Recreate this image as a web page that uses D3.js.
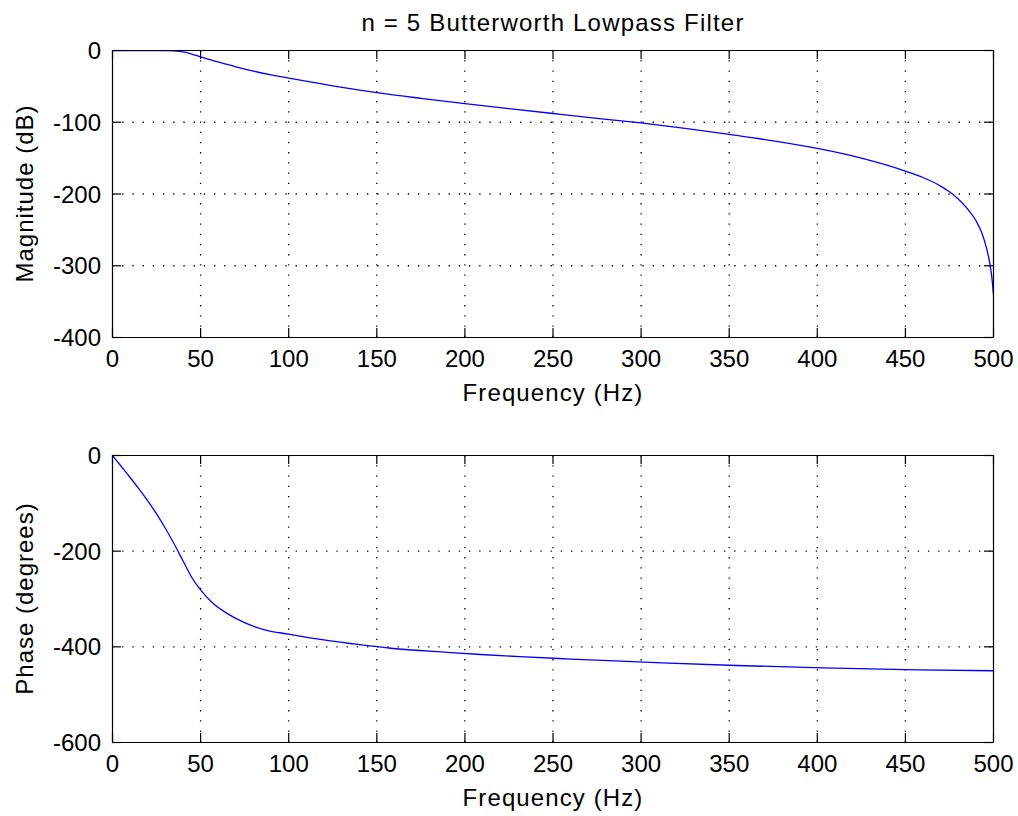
<!DOCTYPE html>
<html>
<head>
<meta charset="utf-8">
<script src="https://cdn.jsdelivr.net/npm/d3@7"></script>
<style>
  html, body { margin: 0; padding: 0; background: #fff; }
  svg { display: block; }
</style>
</head>
<body>
<script>
// ---------------- data ----------------
const titleText = "n = 5 Butterworth Lowpass Filter";
const xLabel = "Frequency (Hz)";
const magLabel = "Magnitude (dB)";
const phaseLabel = "Phase (degrees)";

const xTicks = [0, 50, 100, 150, 200, 250, 300, 350, 400, 450, 500];
const magTicks = [0, -100, -200, -300, -400];
const phaseTicks = [0, -200, -400, -600];

const magFreq = [0, 10, 20, 30, 35, 40, 45, 50, 60, 70, 80, 90, 100, 125, 150, 175, 200, 225, 250, 275, 300, 325, 350, 375, 400, 425, 450, 460, 470, 475, 480, 485, 490, 493, 496, 498, 499, 500];
const magDb   = [0, 0, 0, -0.1, -0.6, -2, -5, -9, -16, -22.7, -28.7, -34, -38.5, -49.4, -58.8, -66.7, -74, -81, -87.8, -94.5, -101, -108.5, -117, -126, -136.5, -150, -168, -177, -189, -197, -207, -220, -237, -252, -275, -298, -315, -341];

const phaseFreq = [0, 5, 10, 15, 20, 25, 30, 35, 40, 45, 50, 57, 65, 74, 87, 100, 115, 137, 158, 190, 209, 231, 260, 285, 312, 354, 403, 457, 500];
const phaseDeg  = [0, -23, -46, -70, -95, -122, -152, -185, -220, -255, -281, -309, -330, -348, -365, -373.5, -383, -394, -403, -411.5, -416, -420.5, -425.5, -429.5, -433.5, -439, -444, -448, -450];

// ---------------- layout ----------------
const W = 1018, H = 816;
const FONT = "'Liberation Sans', Arial, sans-serif";
const svg = d3.select("body").append("svg").attr("width", W).attr("height", H);

// x scale for marks; axis copy is shifted by d3's own half-pixel offset
const x = d3.scaleLinear().domain([0, 500]).range([112.5, 993.5]);
const xAx = x.copy().range([112, 993]);
const fmt = d => String(d); // plain hyphen minus, as in the reference

function panel(id, yDomain, top, bottom, yTicks, xs, ys, yLab) {
  const y = d3.scaleLinear().domain(yDomain).range([bottom + 0.5, top + 0.5]);
  const yAx = y.copy().range([bottom, top]);
  const g = svg.append("g");
  const h = bottom - top, w = 993 - 112;

  svg.append("clipPath").attr("id", "clip" + id)
    .append("rect").attr("x", 112.5).attr("y", top + 0.5).attr("width", w).attr("height", h);

  // dotted grid
  const gx = g.append("g").attr("transform", `translate(0,${bottom})`)
    .call(d3.axisBottom(xAx).tickValues(xTicks.slice(1, -1)).tickSize(-h).tickFormat(""));
  const gy = g.append("g").attr("transform", `translate(112,0)`)
    .call(d3.axisLeft(yAx).tickValues(yTicks.slice(1, -1)).tickSize(-w).tickFormat(""));
  [gx, gy].forEach(s => {
    s.select(".domain").remove();
    s.selectAll("line").attr("stroke", "#000").attr("stroke-width", 1.3)
      .attr("stroke-dasharray", "1.3,8.9").attr("stroke-linecap", "butt");
  });

  // curve
  const line = d3.line().x((d, i) => x(xs[i])).y((d, i) => y(ys[i])).curve(d3.curveMonotoneX);
  g.append("path").datum(xs).attr("clip-path", `url(#clip${id})`)
    .attr("d", line).attr("fill", "none").attr("stroke", "#0000ff").attr("stroke-width", 1.3);

  // axes, ticks inward on all four sides
  const ax = [];
  ax.push(g.append("g").attr("transform", `translate(0,${bottom})`)
    .call(d3.axisBottom(xAx).tickValues(xTicks).tickSize(-9).tickSizeOuter(0).tickPadding(13).tickFormat(fmt)));
  ax.push(g.append("g").attr("transform", `translate(0,${top})`)
    .call(d3.axisTop(xAx).tickValues(xTicks).tickSize(-9).tickSizeOuter(0).tickFormat("")));
  ax.push(g.append("g").attr("transform", `translate(112,0)`)
    .call(d3.axisLeft(yAx).tickValues(yTicks).tickSize(-9).tickSizeOuter(0).tickPadding(11).tickFormat(fmt)));
  ax.push(g.append("g").attr("transform", `translate(993,0)`)
    .call(d3.axisRight(yAx).tickValues(yTicks).tickSize(-9).tickSizeOuter(0).tickFormat("")));
  ax.forEach(s => {
    s.attr("font-family", FONT).attr("font-size", 24);
    s.selectAll(".domain").attr("stroke", "#000").attr("stroke-width", 1.2);
    s.selectAll("line").attr("stroke", "#000").attr("stroke-width", 1.2);
    s.selectAll("text").attr("fill", "#000");
  });
  ax[2].selectAll("text").attr("dy", "0.36em");

  // x label
  g.append("text").attr("x", 553).attr("y", bottom + 64)
    .attr("text-anchor", "middle").attr("font-family", FONT).attr("font-size", 24)
    .attr("letter-spacing", "1.1px").attr("fill", "#000").text(xLabel);

  // y label
  g.append("text").attr("transform", `translate(33,${(bottom + top) / 2}) rotate(-90)`)
    .attr("text-anchor", "middle").attr("font-family", FONT).attr("font-size", 24)
    .attr("letter-spacing", "1.0px").attr("fill", "#000").text(yLab);
  return y;
}

panel(1, [-400, 0], 50, 337, magTicks, magFreq, magDb, magLabel);
panel(2, [-600, 0], 455, 742, phaseTicks, phaseFreq, phaseDeg, phaseLabel);

// title
svg.append("text").attr("x", 553).attr("y", 31).attr("text-anchor", "middle")
  .attr("font-family", FONT).attr("font-size", 24).attr("letter-spacing", "1.2px")
  .attr("fill", "#000").text(titleText);
</script>
</body>
</html>
